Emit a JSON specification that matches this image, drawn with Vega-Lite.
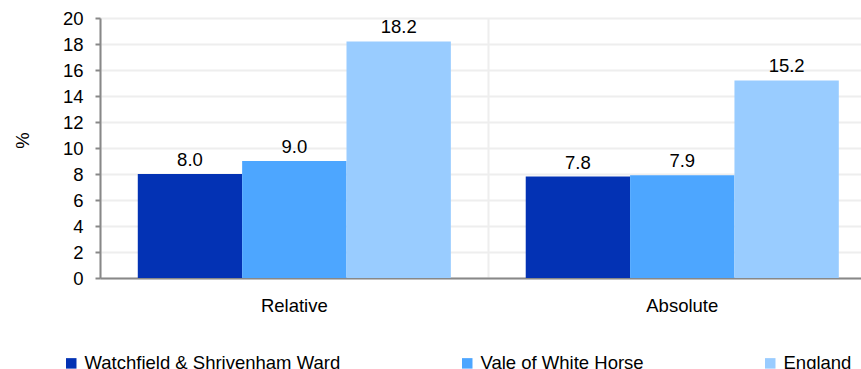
{
  "$schema": "https://vega.github.io/schema/vega-lite/v6.json",
  "width": 761,
  "height": 260,
  "autosize": {"type": "none"},
  "padding": {"left": 100, "top": 18, "right": 0, "bottom": 91},
  "background": "white",
  "config": {
    "font": "Liberation Sans",
    "view": {"stroke": null}
  },
  "data": {
    "values": [
      {"measure": "Relative", "area": "Watchfield & Shrivenham Ward", "value": 8.0},
      {"measure": "Relative", "area": "Vale of White Horse", "value": 9.0},
      {"measure": "Relative", "area": "England", "value": 18.2},
      {"measure": "Absolute", "area": "Watchfield & Shrivenham Ward", "value": 7.8},
      {"measure": "Absolute", "area": "Vale of White Horse", "value": 7.9},
      {"measure": "Absolute", "area": "England", "value": 15.2}
    ]
  },
  "encoding": {
    "x": {
      "field": "measure",
      "type": "nominal",
      "sort": ["Relative", "Absolute"],
      "scale": {"paddingInner": 0.193, "paddingOuter": 0.0773, "align": 0.63},
      "axis": {
        "title": null,
        "labelAngle": 0,
        "labelFontSize": 18.5,
        "labelColor": "#000000",
        "labelPadding": 18,
        "bandPosition": -0.12,
        "ticks": false,
        "domainColor": "#888888",
        "domainWidth": 2,
        "grid": true,
        "gridColor": "#eeeeee",
        "gridWidth": 2
      }
    },
    "y": {
      "field": "value",
      "type": "quantitative",
      "scale": {"domain": [0, 20], "nice": false},
      "axis": {
        "title": "%",
        "titleFontSize": 18.5,
        "titleFontWeight": "normal",
        "titleColor": "#000000",
        "titleAngle": -90,
        "titleX": -78,
        "titleY": 122,
        "titleAlign": "center",
        "titleBaseline": "middle",
        "values": [0, 2, 4, 6, 8, 10, 12, 14, 16, 18, 20],
        "labelFontSize": 18.5,
        "labelColor": "#000000",
        "labelPadding": 12,
        "tickSize": 5,
        "tickColor": "#888888",
        "tickWidth": 2,
        "domainColor": "#888888",
        "domainWidth": 2,
        "grid": true,
        "gridColor": "#eeeeee",
        "gridWidth": 2
      }
    },
    "xOffset": {
      "field": "area",
      "type": "nominal",
      "sort": ["Watchfield & Shrivenham Ward", "Vale of White Horse", "England"],
      "scale": {"paddingInner": 0, "paddingOuter": 0}
    }
  },
  "layer": [
    {
      "mark": {"type": "bar"},
      "encoding": {
        "color": {
          "field": "area",
          "type": "nominal",
          "scale": {
            "domain": ["Watchfield & Shrivenham Ward", "Vale of White Horse", "England"],
            "range": ["#0332b4", "#4da6ff", "#99ccff"]
          },
          "legend": {
            "title": null,
            "orient": "none",
            "direction": "horizontal",
            "columns": 3,
            "columnPadding": 117,
            "legendX": -38,
            "legendY": 336,
            "symbolType": "square",
            "symbolSize": 110,
            "symbolStrokeWidth": 0,
            "labelFontSize": 18.5,
            "labelColor": "#000000",
            "labelOffset": 4,
            "labelLimit": 400
          }
        }
      }
    },
    {
      "mark": {"type": "text", "baseline": "alphabetic", "dy": -8, "fontSize": 18.5, "color": "#000000"},
      "encoding": {
        "text": {"field": "value", "type": "quantitative", "format": ".1f"}
      }
    }
  ]
}
